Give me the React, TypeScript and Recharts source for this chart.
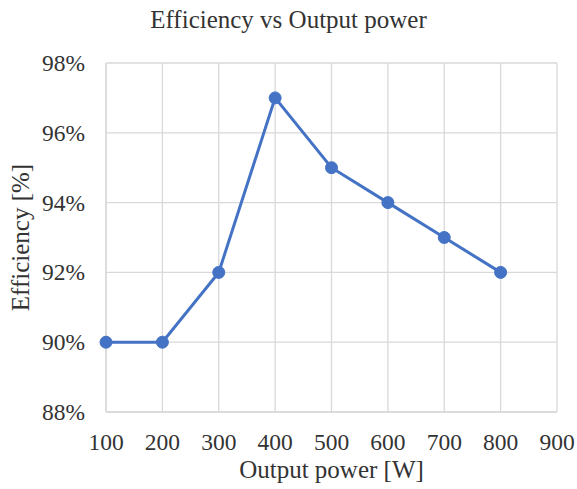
import { CartesianGrid, Label, Line, LineChart, XAxis, YAxis } from "recharts";

const outputPower = [100, 200, 300, 400, 500, 600, 700, 800];
const efficiency = [90, 90, 92, 97, 95, 94, 93, 92];
const xTicks = [100, 200, 300, 400, 500, 600, 700, 800, 900];
const yTicks = [88, 90, 92, 94, 96, 98];

const data = outputPower.map((power, i) => ({ power, efficiency: efficiency[i] }));

const font = "'Liberation Serif', 'Times New Roman', serif";
const textColor = "#333333";
const gridColor = "#d9d9d9";
const blue = "#4472c4";

function XTick({ x, y, payload }: any) {
  return (
    <text
      x={x}
      y={y + 38}
      textAnchor="middle"
      style={{ fill: textColor, fontSize: 23.5, fontFamily: font }}
    >
      {payload.value}
    </text>
  );
}

function YTick({ x, y, payload }: any) {
  return (
    <text
      x={x - 21}
      y={y + 8}
      textAnchor="end"
      style={{ fill: textColor, fontSize: 23.5, fontFamily: font }}
    >
      {`${payload.value}%`}
    </text>
  );
}

export default function App() {
  return (
    <div
      style={{
        position: "absolute",
        left: 0,
        top: 0,
        width: 577,
        height: 489,
        background: "#fff",
        fontFamily: font,
      }}
    >
      <div
        style={{
          position: "absolute",
          left: 0,
          top: 8,
          width: 577,
          textAlign: "center",
          fontSize: 25,
          lineHeight: "24px",
          color: textColor,
        }}
      >
        Efficiency vs Output power
      </div>
      <LineChart
        width={577}
        height={489}
        data={data}
        margin={{ top: 63, right: 20, left: 0, bottom: 0 }}
        style={{ fontFamily: font }}
      >
        <CartesianGrid stroke={gridColor} strokeWidth={1.3} />
        <XAxis
          dataKey="power"
          type="number"
          domain={[100, 900]}
          ticks={xTicks}
          height={77}
          tickLine={false}
          tickSize={0}
          tickMargin={0}
          axisLine={{ stroke: gridColor, strokeWidth: 1.3 }}
          tick={<XTick />}
        >
          <Label
            value="Output power [W]"
            position="insideBottom"
            offset={11}
            style={{ fill: textColor, fontSize: 25, fontFamily: font }}
          />
        </XAxis>
        <YAxis
          type="number"
          domain={[88, 98]}
          ticks={yTicks}
          width={106}
          tickLine={false}
          tickSize={0}
          tickMargin={0}
          axisLine={{ stroke: gridColor, strokeWidth: 1.3 }}
          tick={<YTick />}
        >
          <Label
            value="Efficiency [%]"
            angle={-90}
            position="insideLeft"
            offset={20}
            style={{ fill: textColor, fontSize: 25, fontFamily: font, textAnchor: "middle" }}
          />
        </YAxis>
        <Line
          dataKey="efficiency"
          stroke={blue}
          strokeWidth={3}
          dot={{ r: 6, fill: blue, stroke: blue, strokeWidth: 1 }}
          isAnimationActive={false}
        />
      </LineChart>
    </div>
  );
}
